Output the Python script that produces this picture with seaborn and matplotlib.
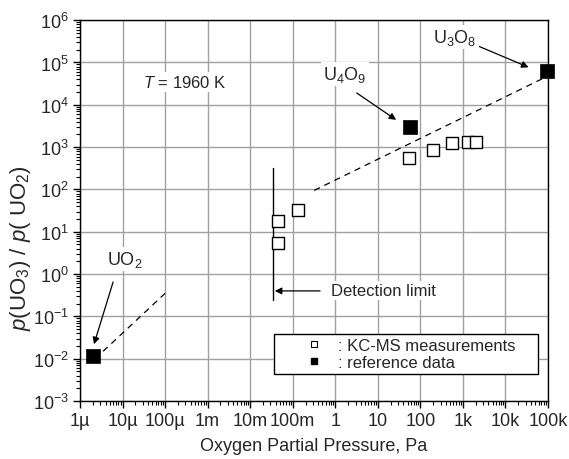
import numpy as np
import pandas as pd
import matplotlib
matplotlib.use('Agg')
import matplotlib.pyplot as plt
import seaborn as sns

# KC-MS measurements (open squares)
kcms_po2 = [0.046, 0.045, 0.13, 55, 204, 560, 1290, 2090]
kcms_ratio = [17.8, 5.4, 32, 550, 850, 1230, 1320, 1330]

# reference data (filled squares)
ref_names = ['UO2', 'U4O9', 'U3O8']
ref_po2 = [2e-6, 58, 9.5e4]
ref_ratio = [0.0114, 2950, 6.2e4]

# dashed guide lines
guide1_po2 = [3.5e-6, 1e-4]
guide1_ratio = [0.015, 0.35]
guide2_po2 = [0.32, 1e5]
guide2_ratio = [95, 4.8e4]

# detection limit
det_po2 = 0.035
det_range = [0.24, 316]

xtick_vals = [1e-6, 1e-5, 1e-4, 1e-3, 1e-2, 1e-1, 1, 10, 100, 1e3, 1e4, 1e5]
xtick_labels = ['1µ', '10µ', '100µ', '1m', '10m', '100m', '1', '10', '100', '1k', '10k', '100k']
ytick_vals = [10.0 ** k for k in range(-3, 7)]

sns.set_style('ticks')
plt.rcParams['font.family'] = ['Liberation Sans', 'DejaVu Sans']
plt.rcParams['mathtext.fontset'] = 'custom'
plt.rcParams['mathtext.rm'] = 'Liberation Sans'
plt.rcParams['mathtext.it'] = 'Liberation Sans:italic'

fig = plt.figure(figsize=(5.69, 4.6), dpi=100)
ax = fig.add_axes([0.1406, 0.126, 0.8224, 0.828])

kc = pd.DataFrame({'po2': kcms_po2, 'ratio': kcms_ratio})
ref = pd.DataFrame({'po2': ref_po2, 'ratio': ref_ratio, 'name': ref_names})

ax.plot(guide1_po2, guide1_ratio, ls=(0, (5, 4)), color='black', lw=0.9, zorder=3)
ax.plot(guide2_po2, guide2_ratio, ls=(0, (5, 4)), color='black', lw=0.9, zorder=3)
ax.plot([det_po2, det_po2], det_range, color='black', lw=1.0, zorder=3)

sns.scatterplot(data=kc, x='po2', y='ratio', marker='s', s=80, facecolor='white',
                edgecolor='black', linewidth=1.0, ax=ax, zorder=4, clip_on=False)
sns.scatterplot(data=ref, x='po2', y='ratio', marker='s', s=95, color='black',
                edgecolor='black', linewidth=0.5, ax=ax, zorder=5, clip_on=False)

ax.set_xscale('log')
ax.set_yscale('log')
ax.set_xlim(1e-6, 1e5)
ax.set_ylim(1e-3, 1e6)
ax.set_xticks(xtick_vals)
ax.set_xticklabels(xtick_labels)
ax.set_yticks(ytick_vals)
ax.set_yticklabels([r'$10^{%d}$' % k for k in range(-3, 7)])
ax.xaxis.set_minor_locator(matplotlib.ticker.LogLocator(base=10, subs=np.arange(2, 10), numticks=20))
ax.yaxis.set_minor_locator(matplotlib.ticker.LogLocator(base=10, subs=np.arange(2, 10), numticks=20))
ax.xaxis.set_minor_formatter(matplotlib.ticker.NullFormatter())
ax.yaxis.set_minor_formatter(matplotlib.ticker.NullFormatter())
ax.tick_params(which='major', direction='out', length=5, width=1, labelsize=13, color='black', pad=3)
ax.tick_params(which='minor', direction='out', length=3, width=0.8, color='black')
ax.grid(True, which='major', color='#a0a0a0', lw=1.0)
ax.set_axisbelow(True)
for sp in ax.spines.values():
    sp.set_color('black')
    sp.set_linewidth(1.0)

ax.set_xlabel('Oxygen Partial Pressure, Pa', fontsize=13, labelpad=6)
ax.set_ylabel(r'$p$(UO$_3$) / $p$( UO$_2$)', fontsize=16)
ax.yaxis.set_label_coords(-0.10, 0.404)

white = dict(fc='white', ec='none', pad=1.5)
ax.text(3.0e-5, 3.4e4, r'$T$ = 1960 K', fontsize=12, va='center', ha='left', bbox=white)

arrow = dict(arrowstyle='-|>', color='black', lw=0.9, mutation_scale=10, shrinkA=0, shrinkB=0)
ax.annotate('', xy=(2.13e-6, 0.022), xytext=(6.0e-6, 0.65), arrowprops=arrow)
ax.text(1.15e-5, 2.26, 'UO$_2$', fontsize=13, ha='center', va='center', bbox=white)
ax.annotate('', xy=(27, 4.4e3), xytext=(3.2, 1.9e4), arrowprops=arrow)
ax.text(1.7, 5.3e4, 'U$_4$O$_9$', fontsize=13, ha='center', va='center', bbox=white)
ax.annotate('', xy=(3.5e4, 7.7e4), xytext=(2.4e3, 2.4e5), arrowprops=arrow)
ax.text(650, 4.0e5, 'U$_3$O$_8$', fontsize=13, ha='center', va='center', bbox=white)
ax.annotate('', xy=(0.038, 0.40), xytext=(0.44, 0.40), arrowprops=arrow)
ax.text(0.79, 0.40, 'Detection limit', fontsize=12, ha='left', va='center', bbox=white)

h_open = plt.Line2D([], [], ls='none', marker='s', ms=4.5, mfc='white', mec='black', mew=0.8)
h_fill = plt.Line2D([], [], ls='none', marker='s', ms=4.5, mfc='black', mec='black')
leg = ax.legend([h_open, h_fill], [': KC-MS measurements    ', ': reference data'],
                loc='lower right', bbox_to_anchor=(0.9786, 0.071), fontsize=12,
                frameon=True, fancybox=False, framealpha=1, edgecolor='black',
                handlelength=4.3, handletextpad=-0.7, borderpad=0.25, labelspacing=0.1,
                borderaxespad=0)
leg.get_frame().set_linewidth(1.0)
leg.set_zorder(6)

fig.savefig('out.png', dpi=100)
